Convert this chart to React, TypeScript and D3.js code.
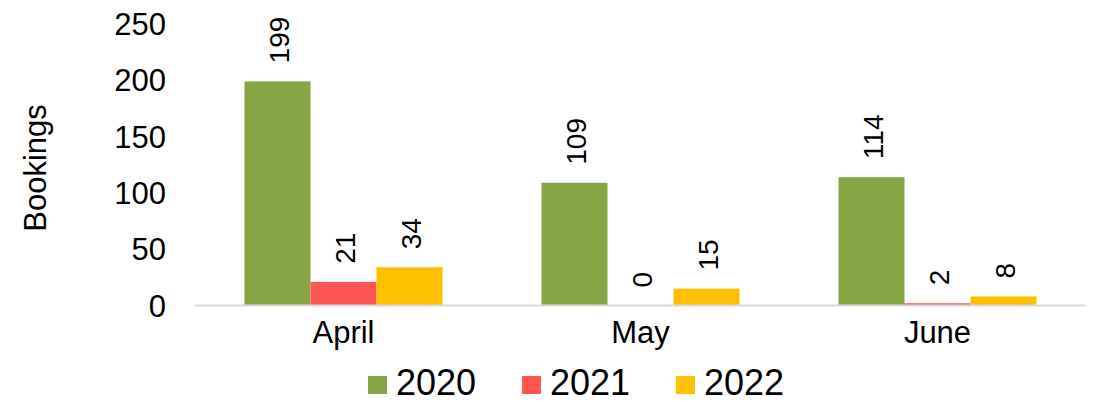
import * as d3 from 'd3';
import React from 'react';

// chart data
const months = ['April', 'May', 'June'];
const years = ['2020', '2021', '2022'];
const bookings2020 = [199, 109, 114];
const bookings2021 = [21, 0, 2];
const bookings2022 = [34, 15, 8];
const yTicks = [0, 50, 100, 150, 200, 250];
const colors = ['#86A544', '#FF5454', '#FFC000'];

const series = [bookings2020, bookings2021, bookings2022];

const FONT = '"Liberation Sans", Arial, sans-serif';

const App: React.FC = () => {
    const width = 1094;
    const height = 402;
    const left = 195;
    const right = 1086;
    const baseY = 305.5;
    const topY = 24;

    const x0 = d3.scaleBand<string>().domain(months).range([left, right]).padding(0);
    const inner = d3
        .scaleBand<string>()
        .domain(years)
        .range([x0.bandwidth() / 6, (x0.bandwidth() * 5) / 6]);

    const y = d3.scaleLinear().domain([0, 250]).range([baseY, topY]);

    const legendX = d3.scaleBand<string>().domain(years).range([368, 830]);

    return (
        <svg
            width={width}
            height={height}
            style={{ position: 'absolute', left: 0, top: 0, background: '#fff' }}
            fontFamily={FONT}
        >
            {/* y tick labels */}
            {yTicks.map((t) => (
                <text key={t} x={166} y={y(t)} dy="0.36em" textAnchor="end" fontSize={31} fill="#000">
                    {t}
                </text>
            ))}

            {/* y axis title */}
            <text
                transform={`translate(46,168) rotate(-90)`}
                textAnchor="middle"
                fontSize={31}
                fill="#000"
            >
                Bookings
            </text>

            {/* bars */}
            {months.map((m, i) => (
                <g key={m} transform={`translate(${x0(m)},0)`}>
                    {years.map((yr, j) => {
                        const v = series[j][i];
                        const bx = inner(yr) ?? 0;
                        const bw = inner.bandwidth();
                        return (
                            <g key={yr}>
                                {v > 0 && (
                                    <rect x={bx} y={y(v)} width={bw} height={baseY - y(v)} fill={colors[j]} />
                                )}
                                <text
                                    transform={`translate(${bx + bw / 2 + 11},${y(v) - 18}) rotate(-90)`}
                                    textAnchor="start"
                                    fontSize={28}
                                    fill="#000"
                                >
                                    {v}
                                </text>
                            </g>
                        );
                    })}
                    <text
                        x={x0.bandwidth() / 2}
                        y={343}
                        textAnchor="middle"
                        fontSize={31}
                        fill="#000"
                    >
                        {m}
                    </text>
                </g>
            ))}

            {/* x axis line */}
            <line x1={left} x2={right} y1={baseY} y2={baseY} stroke="#D9D9D9" strokeWidth={2} />

            {/* legend */}
            {years.map((yr, j) => (
                <g key={yr} transform={`translate(${legendX(yr)},0)`}>
                    <rect x={0} y={376} width={19} height={18} fill={colors[j]} />
                    <text x={28} y={395} fontSize={36} fill="#000">
                        {yr}
                    </text>
                </g>
            ))}
        </svg>
    );
};

export default App;
